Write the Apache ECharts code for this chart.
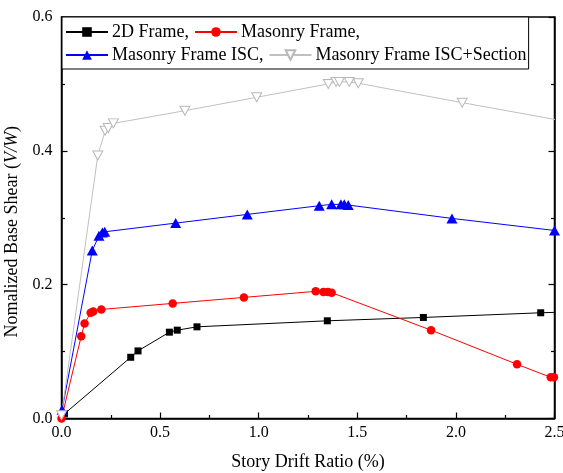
<!DOCTYPE html>
<html>
<head>
<meta charset="utf-8">
<script src="https://cdn.jsdelivr.net/npm/echarts@6/dist/echarts.min.js"></script>
<style>html,body{margin:0;padding:0;background:#fff;overflow:hidden}#c{width:563px;height:473px}</style>
</head>
<body>
<div id="c"></div>
<script>
const seriesNames = ['2D Frame,', 'Masonry Frame,', 'Masonry Frame ISC,', 'Masonry Frame ISC+Section'];
const frame2dX = [0.015, 0.351, 0.388, 0.547, 0.587, 0.687, 1.348, 1.835, 2.43, 2.6];
const frame2dY = [0.007, 0.0915, 0.101, 0.129, 0.132, 0.137, 0.146, 0.151, 0.158, 0.1595];
const masonryX = [0, 0.100, 0.117, 0.148, 0.161, 0.202, 0.564, 0.925, 1.289, 1.328, 1.351, 1.370, 1.874, 2.310, 2.481, 2.497];
const masonryY = [0, 0.123, 0.142, 0.158, 0.160, 0.163, 0.172, 0.181, 0.190, 0.189, 0.189, 0.188, 0.132, 0.081, 0.0616, 0.0616];
const iscX = [0.003, 0.156, 0.190, 0.207, 0.219, 0.579, 0.942, 1.307, 1.370, 1.417, 1.434, 1.454, 1.980, 2.500];
const iscY = [0.013, 0.251, 0.273, 0.278, 0.279, 0.292, 0.305, 0.318, 0.320, 0.320, 0.320, 0.319, 0.299, 0.281];
const sectionX = [0, 0.184, 0.221, 0.237, 0.263, 0.626, 0.990, 1.353, 1.392, 1.409, 1.459, 1.505, 2.032, 2.600];
const sectionY = [0.005, 0.393, 0.430, 0.434, 0.441, 0.460, 0.480, 0.500, 0.503, 0.503, 0.503, 0.501, 0.472, 0.4417];
const xTicks = [0, 0.5, 1.0, 1.5, 2.0, 2.5];
const yTicks = [0, 0.2, 0.4, 0.6];

const zip = (xs, ys) => xs.map((x, i) => [x, ys[i]]);
const font = 'Liberation Serif';

const chart = echarts.init(document.getElementById('c'), null, {renderer: 'canvas'});
const axisCommon = {
  axisLine: {show: true, lineStyle: {color: '#000', width: 1.5}},
  axisTick: {show: true, inside: true, length: 6, lineStyle: {color: '#000', width: 1.2}},
  minorTick: {show: true, splitNumber: 2, length: 3.5, lineStyle: {color: '#000', width: 1.2}},
  splitLine: {show: false},
};
chart.setOption({
  animation: false,
  textStyle: {fontFamily: font},
  grid: {left: 61.5, right: 8.5, top: 17, bottom: 54.5, containLabel: false, outerBoundsMode: 'none',
    show: true, borderColor: '#000', borderWidth: 1.5},
  legend: {
    data: seriesNames,
    left: 62, top: 17, width: 462,
    padding: [6, 2, 5, 3],
    itemGap: 5, itemWidth: 42, itemHeight: 12,
    borderColor: '#000', borderWidth: 1, backgroundColor: '#fff',
    textStyle: {fontFamily: font, fontSize: 18, color: '#000', lineHeight: 15, padding: [0, 0, 0, -1]}
  },
  xAxis: Object.assign({
    type: 'value', min: xTicks[0], max: xTicks[xTicks.length - 1], interval: 0.5,
    name: 'Story Drift Ratio (%)', nameLocation: 'middle', nameGap: 35,
    nameTextStyle: {fontFamily: font, fontSize: 18, color: '#000'},
    axisLabel: {fontFamily: font, fontSize: 16, color: '#000', margin: 6, formatter: v => v.toFixed(1)}
  }, axisCommon),
  yAxis: [Object.assign({
    type: 'value', min: yTicks[0], max: yTicks[yTicks.length - 1], interval: 0.2,
    name: 'Nomalized Base Shear ({i|V/W})', nameLocation: 'middle', nameGap: 35,
    nameTextStyle: {fontFamily: font, fontSize: 18, color: '#000', padding: [0, 28, 0, 0],
      rich: {i: {fontFamily: font, fontSize: 18, fontStyle: 'italic', color: '#000'}}},
    axisLabel: {fontFamily: font, fontSize: 16, color: '#000', margin: 9, formatter: v => v.toFixed(1)}
  }, axisCommon), Object.assign({
    type: 'value', position: 'right', min: 0, max: 0.6, interval: 0.2,
    axisLabel: {show: false}
  }, axisCommon)],
  series: [
    {name: seriesNames[0], type: 'line', data: zip(frame2dX, frame2dY), symbol: 'rect', symbolSize: 7,
      lineStyle: {color: '#000', width: 1}, itemStyle: {color: '#000'}},
    {name: seriesNames[1], type: 'line', data: zip(masonryX, masonryY), symbol: 'circle', symbolSize: 8.5,
      lineStyle: {color: '#ff0000', width: 1}, itemStyle: {color: '#ff0000'}},
    {name: seriesNames[2], type: 'line', data: zip(iscX, iscY), symbol: 'triangle', symbolSize: [11, 10],
      lineStyle: {color: '#0000ff', width: 1}, itemStyle: {color: '#0000ff'}},
    {name: seriesNames[3], type: 'line', data: zip(sectionX, sectionY), symbol: 'triangle', symbolRotate: 180, symbolSize: [10, 9],
      lineStyle: {color: '#c0c0c0', width: 1}, itemStyle: {color: '#fff', borderColor: '#b8b8b8', borderWidth: 1}}
  ]
});
</script>
</body>
</html>
